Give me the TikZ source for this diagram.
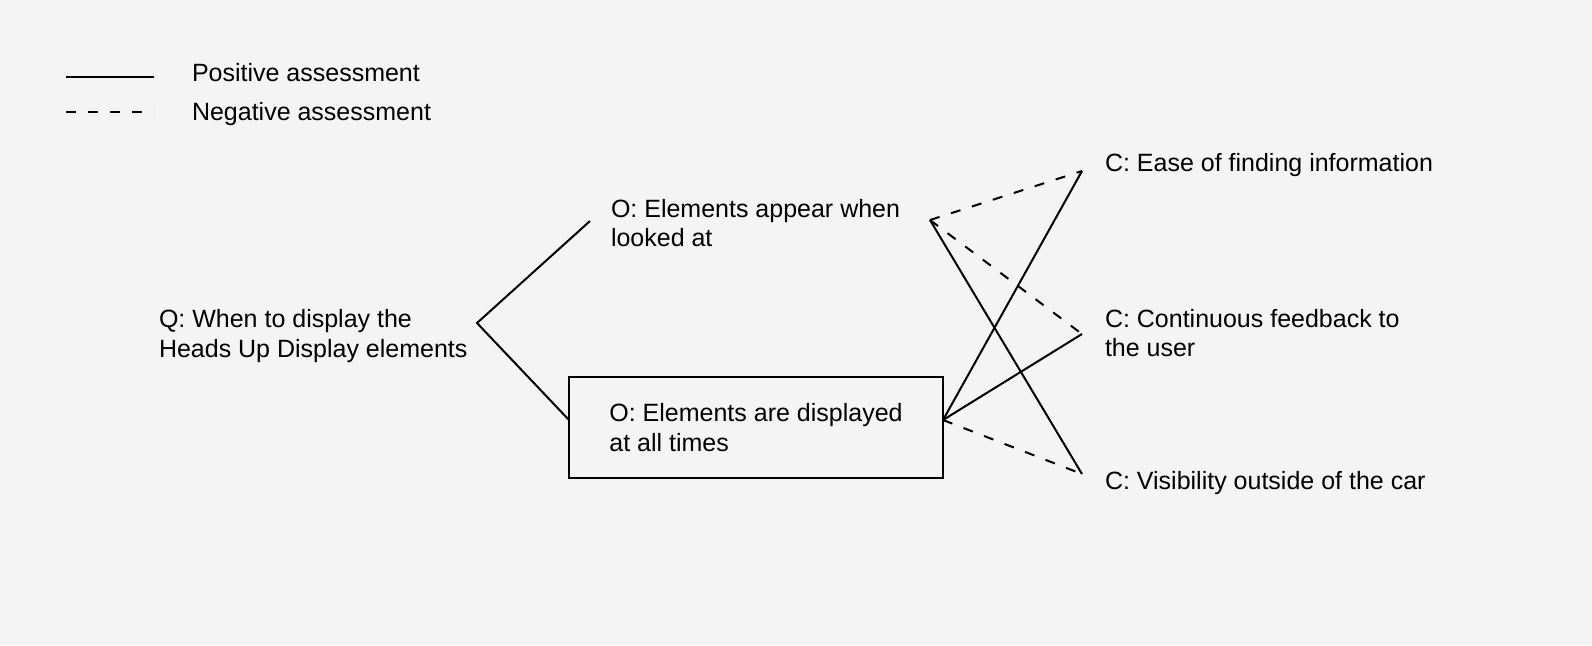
\documentclass[tikz,border=0pt]{standalone}
\usepackage{fontspec}
\setmainfont{Liberation Sans}
\definecolor{bggray}{HTML}{F4F4F4}
\begin{document}
\begin{tikzpicture}[x=0.5pt,y=-0.5pt,inner sep=0pt,outer sep=0pt,line width=1pt,
txt/.style={anchor=west,align=left,font=\fontsize{12.5}{14.75}\selectfont},
optbox/.style={draw,rectangle,line width=1pt,inner sep=0pt,minimum width=187pt,minimum height=50.5pt,align=left,font=\fontsize{12.5}{14.75}\selectfont},
neg/.style={dash pattern=on 5pt off 6pt}]
\fill[bggray] (0,0) rectangle (1592,645);
% legend
\draw (66,77) -- (154,77);
\draw[neg] (66,112) -- (154,112);
\draw (192,73) node[txt] (pos) {Positive assessment};
\draw (192,114) node[txt] (negtxt) {Negative assessment};
% question and options
\draw (159,336) node[txt] (q) {Q: When to display the\\Heads Up Display elements};
\draw (611,223) node[txt] (o1) {O: Elements appear when\\looked at};
\draw (756,427.5) node[optbox] (o2) {O: Elements are displayed\\at all times};
% criteria
\draw (1105,165) node[txt] (c1) {C: Ease of finding information};
\draw (1105,333) node[txt] (c2) {C: Continuous feedback to\\the user};
\draw (1105,483) node[txt] (c3) {C: Visibility outside of the car};
% connector ends
\coordinate (q-out) at (477,323);
\coordinate (o1-in) at (590,221);
\coordinate (o2-in) at (569,420);
\coordinate (o1-out) at (930,220);
\coordinate (o2-out) at (943,420);
\coordinate (c1-in) at (1082,171);
\coordinate (c2-in) at (1082,334);
\coordinate (c3-in) at (1082,474);
\draw (o1-in) -- (q-out) -- (o2-in);
\draw[neg] (o1-out) -- (c1-in);
\draw[neg] (o1-out) -- (c2-in);
\draw (o1-out) -- (c3-in);
\draw (o2-out) -- (c1-in);
\draw (o2-out) -- (c2-in);
\draw[neg] (o2-out) -- (c3-in);
\end{tikzpicture}
\end{document}
